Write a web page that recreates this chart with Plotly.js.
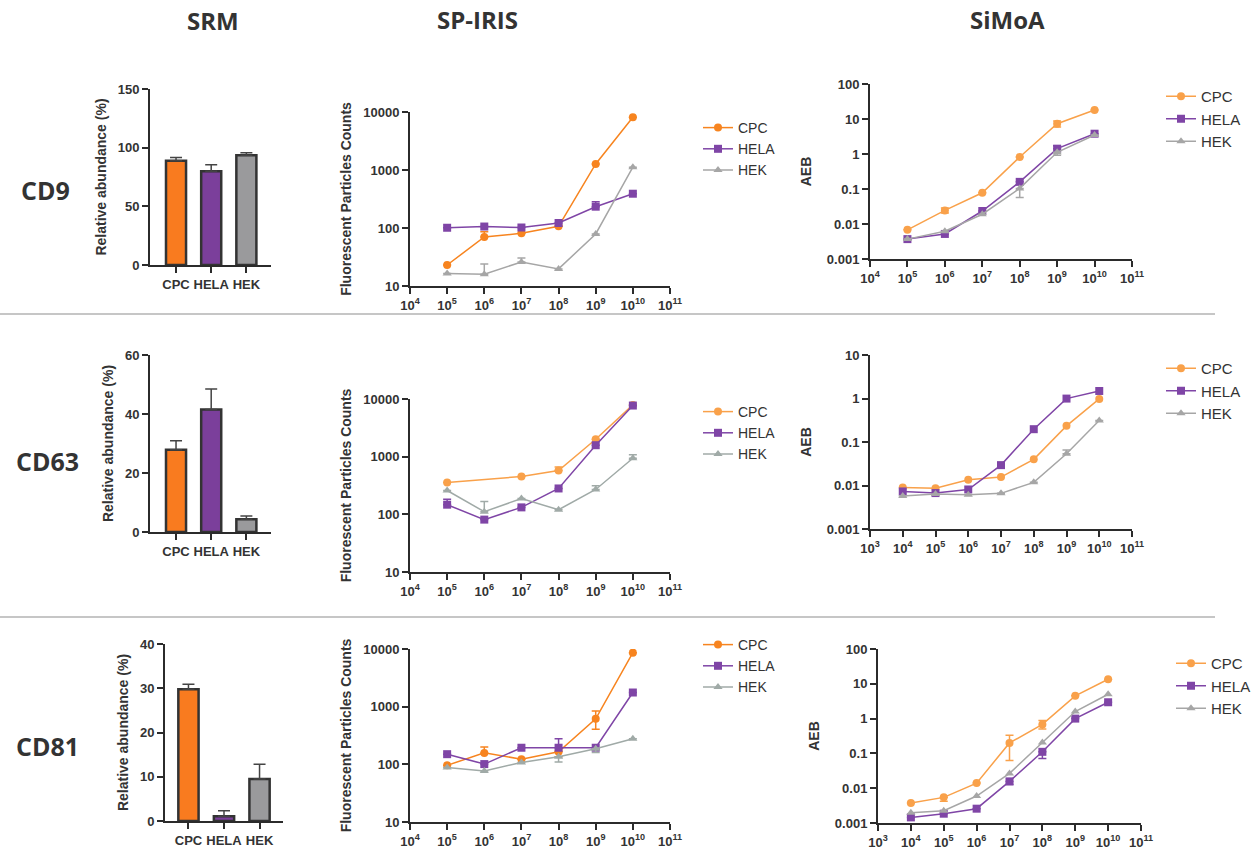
<!DOCTYPE html>
<html>
<head>
<meta charset="utf-8">
<script src="https://cdn.plot.ly/plotly-3.0.1.min.js"></script>
<style>html,body{margin:0;padding:0;background:#fff;}#chart{width:1256px;height:849px;}</style>
</head>
<body>
<div id="chart"></div>
<script>
// ---------- data ----------
const cellLines = ['CPC', 'HELA', 'HEK'];
const columnTitles = ['SRM', 'SP-IRIS', 'SiMoA'];
const rowTitles = ['CD9', 'CD63', 'CD81'];

// SRM relative abundance (%)
const srmCD9 = [88.8, 80.0, 93.6];
const srmCD9Err = [2.8, 5.4, 2.0];
const srmCD63 = [27.9, 41.5, 4.3];
const srmCD63Err = [3.0, 7.0, 1.1];
const srmCD81 = [29.8, 1.1, 9.5];
const srmCD81Err = [1.1, 1.2, 3.3];

// doses
const dose5 = [1e5, 1e6, 1e7, 1e8, 1e9, 1e10];
const dose4 = [1e4, 1e5, 1e6, 1e7, 1e8, 1e9, 1e10];

// SP-IRIS fluorescent particle counts
const spCD9_CPC = [23, 70, 81, 107, 1270, 8100];
const spCD9_CPC_up = [0, 16, 0, 0, 0, 0];
const spCD9_HELA = [101, 106, 102, 122, 233, 390];
const spCD9_HELA_up = [0, 0, 0, 0, 50, 0];
const spCD9_HEK = [16.4, 15.9, 26, 19.7, 79, 1120];
const spCD9_HEK_up = [0, 8, 4.5, 0, 0, 0];

const spCD63_CPC = [356, null, 453, 575, 2005, 7900];
const spCD63_CPC_up = [0, 0, 0, 85, 0, 0];
const spCD63_HELA = [147, 81, 132, 281, 1580, 7700];
const spCD63_HELA_up = [36, 0, 0, 0, 0, 0];
const spCD63_HEK = [259, 111, 188, 120, 270, 940];
const spCD63_HEK_up = [0, 56, 0, 0, 42, 135];

const spCD81_CPC = [96, 158, 123, 165, 615, 8650];
const spCD81_CPC_up = [0, 41, 0, 0, 230, 0];
const spCD81_CPC_down = [0, 0, 0, 30, 208, 0];
const spCD81_HELA = [150, 101, 194, 194, 194, 1760];
const spCD81_HELA_up = [0, 0, 0, 83, 0, 0];
const spCD81_HEK = [88, 77, 108, 135, 186, 277];
const spCD81_HEK_down = [0, 0, 0, 25, 25, 0];

// SiMoA AEB
const smCD9_CPC = [0.0068, 0.0245, 0.078, 0.82, 7.3, 18];
const smCD9_CPC_err = [0, 0.004, 0, 0, 1.4, 0];
const smCD9_HELA = [0.0037, 0.0052, 0.0235, 0.16, 1.42, 3.8];
const smCD9_HELA_err = [0, 0, 0, 0, 0.3, 0];
const smCD9_HEK = [0.0037, 0.0062, 0.019, 0.104, 1.12, 3.5];
const smCD9_HEK_err = [0, 0, 0, 0.047, 0.2, 0];

const smCD63_CPC = [0.0090, 0.0087, 0.0136, 0.0156, 0.040, 0.235, 0.98];
const smCD63_HELA = [0.0073, 0.0067, 0.0081, 0.0294, 0.197, 0.995, 1.49];
const smCD63_HEK = [0.0057, 0.0064, 0.0061, 0.0066, 0.0118, 0.0535, 0.311];
const smCD63_HEK_err = [0, 0, 0, 0, 0, 0.012, 0];

const smCD81_CPC = [0.00375, 0.00545, 0.0140, 0.20, 0.68, 4.5, 13.5];
const smCD81_CPC_up = [0, 0, 0, 0.134, 0.2, 0, 0];
const smCD81_CPC_down = [0, 0.0012, 0, 0.137, 0.18, 0, 0];
const smCD81_HELA = [0.00145, 0.00185, 0.00258, 0.0157, 0.111, 1.0, 2.95];
const smCD81_HELA_down = [0, 0, 0, 0.003, 0.04, 0, 0];
const smCD81_HEK = [0.00198, 0.00226, 0.00595, 0.0266, 0.206, 1.6, 5.0];

// tick labels
const decadeVals = [1e3, 1e4, 1e5, 1e6, 1e7, 1e8, 1e9, 1e10, 1e11];
const decadeText = ['10<sup>3</sup>', '10<sup>4</sup>', '10<sup>5</sup>', '10<sup>6</sup>', '10<sup>7</sup>', '10<sup>8</sup>', '10<sup>9</sup>', '10<sup>10</sup>', '10<sup>11</sup>'];
const spYVals = [10, 100, 1000, 10000];
const spYText = ['10', '100', '1000', '10000'];
const smYVals = [0.001, 0.01, 0.1, 1, 10, 100];
const smYText = ['0.001', '0.01', '0.1', '1', '10', '100'];

// ---------- styling ----------
const W = 1256, H = 849;
const px = v => v / W;
const py = v => 1 - v / H;

const C = {
  orange: '#f7841f', orangeLight: '#f9a14a', purple: '#7f45a6',
  gray: '#a6a6a6', grayGreen: '#a0aaa7',
  barOrange: '#f97b1f', barPurple: '#7b3f9b', barGray: '#9a9a9c'
};
const FONT = 'Liberation Sans, Arial, sans-serif';
const axBase = {
  showline: true, linewidth: 2, linecolor: '#2b2b2b',
  ticks: 'outside', ticklen: 6, tickwidth: 2, tickcolor: '#2b2b2b',
  showgrid: false, zeroline: false, fixedrange: true,
  tickfont: {family: FONT, size: 13, color: '#333', weight: 700}
};
const titleFont = {family: FONT, size: 14, color: '#333', weight: 700};

function xBar(x0, x1, rng) {
  return Object.assign({}, axBase, {domain: [px(x0), px(x1)], range: rng, type: 'category', tickfont: {family: FONT, size: 13, color: '#333', weight: 700}});
}
function yLin(y0, y1, rng, dt, standoff) {
  return Object.assign({}, axBase, {domain: [py(y0), py(y1)], range: rng, dtick: dt,
    title: {text: 'Relative abundance (%)', font: titleFont, standoff: standoff}});
}
function xLog(x0, x1, rng) {
  return Object.assign({}, axBase, {domain: [px(x0), px(x1)], type: 'log', range: rng,
    tickmode: 'array', tickvals: decadeVals, ticktext: decadeText});
}
function yLog(y0, y1, rng, vals, text, title, standoff) {
  return Object.assign({}, axBase, {domain: [py(y0), py(y1)], type: 'log', range: rng,
    tickmode: 'array', tickvals: vals, ticktext: text,
    title: {text: title, font: titleFont, standoff: standoff}});
}

const traces = [];
function barTrace(vals, errs, ax) {
  traces.push({
    type: 'bar', x: cellLines, y: vals, xaxis: 'x' + ax, yaxis: 'y' + ax, width: 0.57,
    marker: {color: [C.barOrange, C.barPurple, C.barGray], line: {color: '#333', width: 2.5}},
    error_y: {type: 'data', symmetric: false, array: errs, arrayminus: [0, 0, 0], color: '#444', thickness: 1.5, width: 6},
    showlegend: false, hoverinfo: 'skip'
  });
}
function lineTrace(name, xs, ys, up, down, ax, color, symbol, legend, msize) {
  const t = {
    type: 'scatter', mode: 'lines+markers', name: name, x: xs, y: ys,
    xaxis: 'x' + ax, yaxis: 'y' + ax, legend: legend, connectgaps: true,
    line: {color: color, width: 1.5},
    marker: {color: color, symbol: symbol, size: msize || 8},
    hoverinfo: 'skip'
  };
  if (up || down) {
    t.error_y = {type: 'data', symmetric: false,
      array: up || xs.map(() => 0), arrayminus: down || xs.map(() => 0),
      color: color, thickness: 1.5, width: 4};
  }
  traces.push(t);
}

// Row 1 : CD9
barTrace(srmCD9, srmCD9Err, '');
lineTrace('CPC', dose5, spCD9_CPC, spCD9_CPC_up, null, '2', C.orange, 'circle', 'legend');
lineTrace('HELA', dose5, spCD9_HELA, spCD9_HELA_up, null, '2', C.purple, 'square', 'legend');
lineTrace('HEK', dose5, spCD9_HEK, spCD9_HEK_up, null, '2', C.gray, 'triangle-up', 'legend');
lineTrace('CPC', dose5, smCD9_CPC, smCD9_CPC_err, smCD9_CPC_err, '3', C.orangeLight, 'circle', 'legend2');
lineTrace('HELA', dose5, smCD9_HELA, smCD9_HELA_err, null, '3', C.purple, 'square', 'legend2');
lineTrace('HEK', dose5, smCD9_HEK, null, smCD9_HEK_err, '3', C.gray, 'triangle-up', 'legend2');

// Row 2 : CD63
barTrace(srmCD63, srmCD63Err, '4');
lineTrace('CPC', dose5, spCD63_CPC, spCD63_CPC_up, null, '5', C.orangeLight, 'circle', 'legend3');
lineTrace('HELA', dose5, spCD63_HELA, spCD63_HELA_up, null, '5', C.purple, 'square', 'legend3');
lineTrace('HEK', dose5, spCD63_HEK, spCD63_HEK_up, null, '5', C.grayGreen, 'triangle-up', 'legend3');
lineTrace('CPC', dose4, smCD63_CPC, null, null, '6', C.orangeLight, 'circle', 'legend4');
lineTrace('HELA', dose4, smCD63_HELA, null, null, '6', C.purple, 'square', 'legend4');
lineTrace('HEK', dose4, smCD63_HEK, smCD63_HEK_err, null, '6', C.gray, 'triangle-up', 'legend4');

// Row 3 : CD81
barTrace(srmCD81, srmCD81Err, '7');
lineTrace('CPC', dose5, spCD81_CPC, spCD81_CPC_up, spCD81_CPC_down, '8', C.orange, 'circle', 'legend5');
lineTrace('HELA', dose5, spCD81_HELA, spCD81_HELA_up, null, '8', C.purple, 'square', 'legend5');
lineTrace('HEK', dose5, spCD81_HEK, null, spCD81_HEK_down, '8', C.grayGreen, 'triangle-up', 'legend5');
lineTrace('CPC', dose4, smCD81_CPC, smCD81_CPC_up, smCD81_CPC_down, '9', C.orangeLight, 'circle', 'legend6');
lineTrace('HELA', dose4, smCD81_HELA, null, smCD81_HELA_down, '9', C.purple, 'square', 'legend6');
lineTrace('HEK', dose4, smCD81_HEK, null, null, '9', C.gray, 'triangle-up', 'legend6');

function legendAt(x, yTop, size) {
  return {x: px(x), y: py(yTop), xanchor: 'left', yanchor: 'top', bgcolor: 'rgba(0,0,0,0)',
    font: {family: FONT, size: size, color: '#333'}, tracegroupgap: 0, itemclick: false, itemdoubleclick: false};
}

const headFont = {family: 'Open Sans, Noto Sans, sans-serif', size: 24, weight: 700, color: '#333'};
const rowFont = {family: 'Open Sans, Noto Sans, sans-serif', size: 25, weight: 700, color: '#333'};
function label(text, x, y, font) {
  return {text: text, x: px(x), y: py(y), xref: 'paper', yref: 'paper', showarrow: false,
    xanchor: 'center', yanchor: 'middle', font: font};
}

const layout = {
  width: W, height: H, margin: {l: 0, r: 0, t: 0, b: 0},
  paper_bgcolor: '#fff', plot_bgcolor: 'rgba(0,0,0,0)',
  font: {family: FONT, color: '#333'},
  bargap: 0,
  // Row 1
  xaxis: Object.assign(xBar(150, 271, [-0.74, 2.7]), {anchor: 'y'}),
  yaxis: Object.assign(yLin(265, 89, [0, 150], 50, 8), {anchor: 'x'}),
  xaxis2: Object.assign(xLog(410, 670, [4, 11]), {anchor: 'y2'}),
  yaxis2: Object.assign(yLog(286, 112, [1, 4], spYVals, spYText, 'Fluorescent Particles Counts', 8), {anchor: 'x2'}),
  xaxis3: Object.assign(xLog(870, 1132, [4, 11]), {anchor: 'y3'}),
  yaxis3: Object.assign(yLog(259, 84, [-3, 2], smYVals, smYText, 'AEB', 12), {anchor: 'x3'}),
  // Row 2
  xaxis4: Object.assign(xBar(150, 271, [-0.74, 2.7]), {anchor: 'y4'}),
  yaxis4: Object.assign(yLin(532, 355, [0, 60], 20, 8), {anchor: 'x4'}),
  xaxis5: Object.assign(xLog(410, 670, [4, 11]), {anchor: 'y5'}),
  yaxis5: Object.assign(yLog(572, 399, [1, 4], spYVals, spYText, 'Fluorescent Particles Counts', 8), {anchor: 'x5'}),
  xaxis6: Object.assign(xLog(870, 1132, [3, 11]), {anchor: 'y6'}),
  yaxis6: Object.assign(yLog(529, 355, [-3, 1], smYVals, smYText, 'AEB', 12), {anchor: 'x6'}),
  // Row 3
  xaxis7: Object.assign(xBar(165, 283, [-0.66, 2.66]), {anchor: 'y7'}),
  yaxis7: Object.assign(yLin(821, 644, [0, 40], 10, 8), {anchor: 'x7'}),
  xaxis8: Object.assign(xLog(410, 670, [4, 11]), {anchor: 'y8'}),
  yaxis8: Object.assign(yLog(822, 649, [1, 4], spYVals, spYText, 'Fluorescent Particles Counts', 8), {anchor: 'x8'}),
  xaxis9: Object.assign(xLog(878, 1141, [3, 11]), {anchor: 'y9'}),
  yaxis9: Object.assign(yLog(823, 649, [-3, 2], smYVals, smYText, 'AEB', 12), {anchor: 'x9'}),

  legend: legendAt(698, 112, 14),
  legend2: legendAt(1161, 80, 15),
  legend3: legendAt(698, 396, 14),
  legend4: legendAt(1161, 352, 15),
  legend5: legendAt(698, 629, 14),
  legend6: legendAt(1171, 647, 15),

  shapes: [
    {type: 'line', xref: 'paper', yref: 'paper', x0: 0, x1: px(1215), y0: py(314), y1: py(314), line: {color: '#b3b3b3', width: 1.5}},
    {type: 'line', xref: 'paper', yref: 'paper', x0: 0, x1: px(1215), y0: py(617), y1: py(617), line: {color: '#b3b3b3', width: 1.5}}
  ],
  annotations: [
    label(columnTitles[0], 213, 21, headFont),
    label(columnTitles[1], 477, 20, headFont),
    label(columnTitles[2], 1007, 20, headFont),
    label(rowTitles[0], 45, 190, rowFont),
    label(rowTitles[1], 47, 461, rowFont),
    label(rowTitles[2], 47, 746, rowFont)
  ]
};

Plotly.newPlot('chart', traces, layout, {staticPlot: true, displayModeBar: false});
</script>
</body>
</html>
